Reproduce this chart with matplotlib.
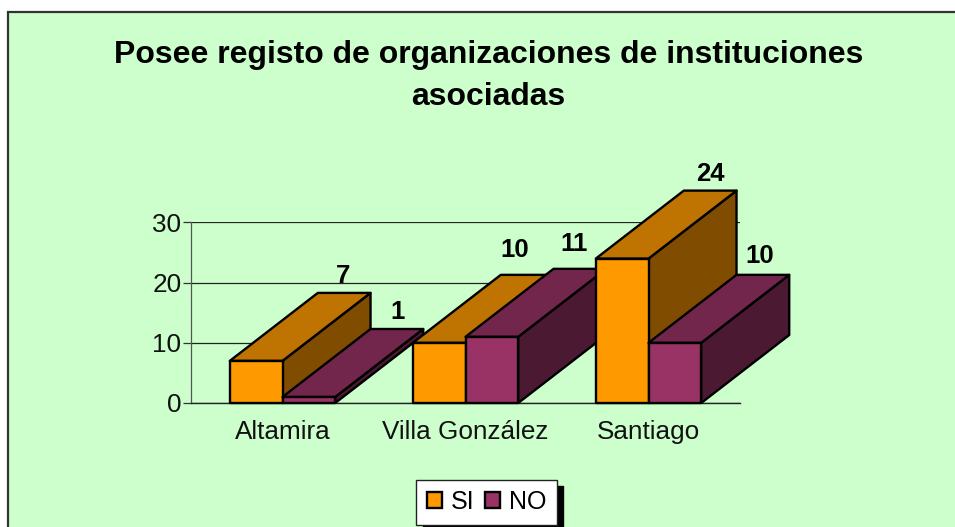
import matplotlib
matplotlib.use("Agg")
import matplotlib.pyplot as plt
from matplotlib.patches import Polygon, Rectangle, Patch

plt.rcParams['font.family'] = ['Liberation Sans', 'DejaVu Sans']

TITLE = "Posee registo de organizaciones de instituciones\nasociadas"
categories = ["Altamira", "Villa González", "Santiago"]
si_values = [7, 10, 24]
no_values = [1, 11, 10]
series_names = ["SI", "NO"]
y_ticks = [0, 10, 20, 30]

# label placement relative to the back-top centre of each bar (pixels)
si_label_nudge = [(-1, 10), (-12, 18), (0, 10)]
no_label_nudge = [(1, 10), (-6, 18), (-3, 12)]

W, H = 955, 527
BG = "#CCFFCC"
SI_C = ("#FF9900", "#BF7300", "#7F4C00")
NO_C = ("#993366", "#73264C", "#4C1933")

fig = plt.figure(figsize=(W / 100, H / 100), dpi=100, facecolor="white")

# chart-area panel with its border
fig.add_artist(Rectangle((8 / W, -0.02), 1.0, 1.02 - 12.5 / H,
                         transform=fig.transFigure, facecolor=BG,
                         edgecolor="#333333", linewidth=1.6, zorder=-5))

ax = fig.add_axes([191 / W, (H - 403) / H, (740 - 191) / W, (403 - 222.5) / H])
ax.set_xlim(0, 3)
ax.set_ylim(0, 30)
ax.patch.set_visible(False)
for s in ("top", "right"):
    ax.spines[s].set_visible(False)
ax.spines["left"].set_color("#555555")
ax.spines["left"].set_linewidth(0.9)
ax.spines["bottom"].set_color("#222222")
ax.spines["bottom"].set_linewidth(1.0)
ax.set_yticks(y_ticks)
ax.set_yticklabels([str(v) for v in y_ticks], fontsize=18.8, color="#111111")
ax.set_xticks([0.5, 1.5, 2.5])
ax.set_xticklabels(categories, fontsize=18.8, color="#111111")
ax.tick_params(axis="y", length=6, width=0.9, color="#333333", pad=1)
ax.tick_params(axis="x", length=0, pad=12)
ax.grid(axis="y", color="#222222", linewidth=0.9, zorder=0)
ax.set_axisbelow(True)

BAR_W = 0.288      # bar width in category units
DX = 0.481         # depth offset in x data units
DY = 11.3          # depth offset in y data units
PT = 72 / 100      # points per pixel


def bar3d(x0, v, colors, z):
    x1 = x0 + BAR_W
    kw = dict(edgecolor="black", linewidth=1.7, joinstyle="round", clip_on=False, zorder=z)
    ax.add_patch(Polygon([(x1, 0), (x1 + DX, DY), (x1 + DX, v + DY), (x1, v)],
                         facecolor=colors[2], **kw))
    ax.add_patch(Polygon([(x0, v), (x0 + DX, v + DY), (x1 + DX, v + DY), (x1, v)],
                         facecolor=colors[1], **kw))
    ax.add_patch(Rectangle((x0, 0), BAR_W, v, facecolor=colors[0], **kw))


def bar_label(x0, v, nudge):
    ax.annotate(str(v), xy=(x0 + BAR_W / 2 + DX, v + DY),
                xytext=(nudge[0] * PT, nudge[1] * PT), textcoords="offset points",
                ha="center", va="baseline", fontsize=18.5, fontweight="bold",
                color="black", zorder=20, annotation_clip=False)


z = 3
for i, (s, n) in enumerate(zip(si_values, no_values)):
    c = i + 0.5
    bar3d(c - BAR_W, s, SI_C, z)
    bar3d(c, n, NO_C, z + 1)
    z += 2
    bar_label(c - BAR_W, s, si_label_nudge[i])
    bar_label(c, n, no_label_nudge[i])

fig.text(488.5 / W, 1 - 40 / H, TITLE, ha="center", va="top", fontsize=23,
         fontweight="bold", color="black", linespacing=1.52)

handles = [Patch(facecolor=SI_C[0], edgecolor="black", linewidth=1.7),
           Patch(facecolor=NO_C[0], edgecolor="black", linewidth=1.7)]
leg = fig.legend(handles, series_names, loc="center", ncols=2,
                 bbox_to_anchor=(486.5 / W, 1 - 502 / H), fontsize=18,
                 fancybox=False, framealpha=1, facecolor="white", edgecolor="#222222",
                 shadow={"ox": 4.5, "oy": -4.5, "color": "black", "alpha": 1},
                 handlelength=0.6, handleheight=0.58, handletextpad=0.36,
                 columnspacing=0.40, borderpad=0.42)
leg.get_frame().set_linewidth(1.0)

fig.savefig("out.png", dpi=100, facecolor="white")
